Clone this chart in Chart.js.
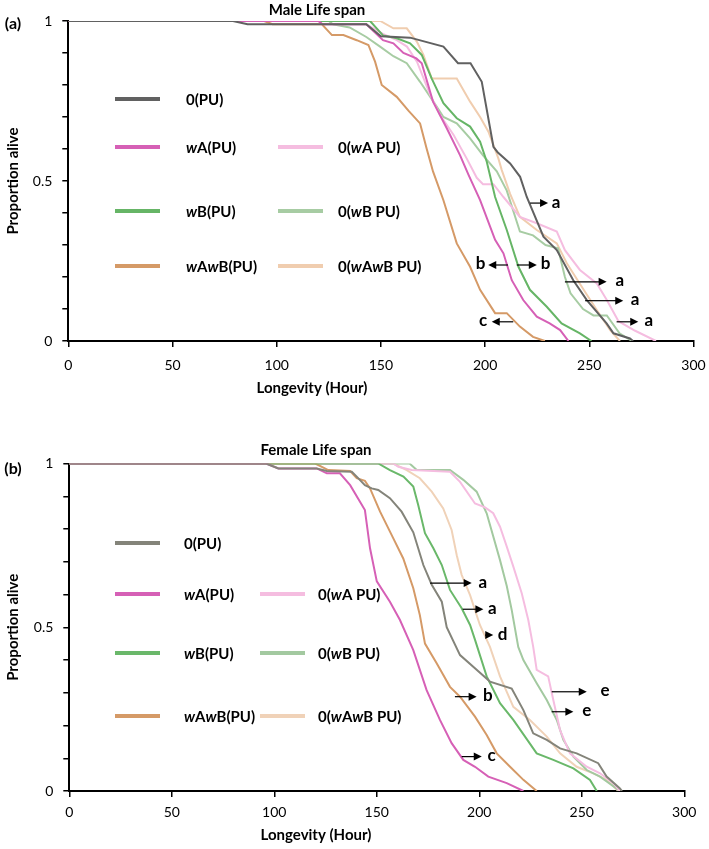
<!DOCTYPE html>
<html>
<head>
<meta charset="utf-8">
<script src="https://cdn.jsdelivr.net/npm/chart.js@4.4.1/dist/chart.umd.min.js"></script>
<style>
  html, body { margin: 0; padding: 0; background: #fff; }
  body { width: 709px; height: 849px; position: relative; overflow: hidden; }
  canvas { position: absolute; left: 0; }
  #maleChart { top: 0; }
  #femaleChart { top: 420px; }
</style>
</head>
<body>
<!-- canvases a bit wider than the page so the "300" label gets room without squeezing the plot -->
<canvas id="maleChart" width="730" height="400"></canvas>
<canvas id="femaleChart" width="730" height="429"></canvas>
<script>
// series names (same order in both panels)
const seriesNames = ['0(PU)', 'wA(PU)', 'wB(PU)', 'wAwB(PU)', '0(wA PU)', '0(wB PU)', '0(wAwB PU)'];

// axis ticks
const xTicks = [0, 50, 100, 150, 200, 250, 300];
const yTickLabels = [0, 0.5, 1];

// (a) male life span: [hour, proportion alive]
const male0PU = [[0,1],[79,1],[86,0.99],[143,0.99],[150,0.952],[164,0.948],[180,0.92],[187,0.868],[193,0.868],[198.4,0.81],[204,0.607],[206,0.59],[212,0.555],[216.8,0.513],[220,0.45],[228,0.326],[234.4,0.284],[242.3,0.19],[248.8,0.128],[258.3,0.055],[261.6,0.024],[269.5,0.008],[271,0]];
const maleWA = [[0,1],[120,1],[122,0.99],[143,0.99],[151,0.94],[156,0.93],[160.8,0.9],[167,0.883],[169.6,0.868],[175,0.748],[181.6,0.665],[188,0.58],[192,0.52],[197.6,0.44],[204.8,0.316],[208.8,0.274],[212.8,0.19],[218.3,0.128],[224.8,0.076],[231,0.055],[236,0.034],[240,0]];
const maleWB = [[0,1],[144.8,1],[151,0.955],[157.6,0.946],[164,0.93],[169.6,0.894],[174.4,0.82],[180,0.743],[186.4,0.696],[192.8,0.67],[197.6,0.623],[200.8,0.56],[204.8,0.45],[210.4,0.347],[216,0.232],[221.5,0.16],[229.6,0.107],[236.7,0.055],[245.5,0.024],[251,0]];
const maleWAWB = [[0,1],[94,1],[98,0.99],[121.7,0.99],[126.5,0.956],[132,0.956],[138.4,0.94],[144,0.925],[147.2,0.873],[150.4,0.8],[157.6,0.763],[163.2,0.72],[168.8,0.68],[172,0.6],[175,0.53],[180,0.44],[186.4,0.305],[192.8,0.232],[197.6,0.16],[204.8,0.087],[210.4,0.087],[216.7,0.045],[223,0.013],[228.7,0]];
const male0WA = [[0,1],[120,1],[122,0.99],[143,0.99],[151,0.96],[157.6,0.94],[162.5,0.92],[167.3,0.873],[173.6,0.77],[178.4,0.706],[184.9,0.644],[191.2,0.57],[196,0.51],[199,0.49],[204,0.49],[208.8,0.45],[216.7,0.388],[224.8,0.368],[234.4,0.342],[238.3,0.284],[245.5,0.222],[253.6,0.18],[258.4,0.128],[264,0.062],[272,0.032],[282,0]];
const male0WB = [[0,1],[125,1],[127,0.99],[135,0.98],[143,0.95],[149.6,0.92],[156,0.89],[162.4,0.868],[168.8,0.81],[175.2,0.748],[180,0.7],[186.4,0.68],[192.8,0.633],[199,0.58],[205.6,0.53],[210.4,0.47],[216.7,0.342],[223,0.33],[229,0.3],[235,0.29],[238.3,0.2],[241,0.149],[247,0.1],[252,0.08],[258.4,0.08],[264.5,0.024],[270.5,0]];
const male0WAWB = [[0,1],[149.7,1],[156,0.977],[162.4,0.977],[167.3,0.935],[170.4,0.894],[174.4,0.82],[186.4,0.82],[192.8,0.748],[197.6,0.7],[201.6,0.654],[206.4,0.57],[208,0.534],[212,0.46],[216.7,0.388],[224.8,0.347],[234.4,0.305],[239.2,0.243],[247.3,0.16],[253.6,0.097],[260,0.034],[264.7,0]];

// (b) female life span
const female0PU = [[0,1],[96,1],[102,0.985],[120.7,0.985],[125.6,0.977],[137.8,0.975],[140.2,0.96],[144.2,0.934],[147.5,0.924],[150.7,0.919],[156.4,0.894],[162.1,0.853],[167.8,0.79],[172.7,0.69],[176.8,0.63],[181.7,0.578],[184.1,0.5],[190.6,0.415],[198.7,0.37],[205.2,0.334],[215.8,0.313],[221.5,0.247],[226.3,0.176],[232.9,0.156],[239.4,0.13],[247.5,0.115],[258,0.085],[262.1,0.044],[268.6,0.008],[269.6,0]];
const femaleWA = [[0,1],[96,1],[102,0.985],[120.7,0.985],[125.6,0.97],[132,0.97],[137,0.934],[144.2,0.858],[146.7,0.741],[150,0.64],[156.4,0.578],[161.3,0.522],[167.8,0.43],[174.3,0.308],[180.8,0.217],[186.5,0.146],[192.2,0.095],[197.9,0.074],[204.4,0.044],[213.4,0.024],[221.5,0]];
const femaleWB = [[0,1],[150.7,1],[156.4,0.98],[163,0.96],[167.8,0.93],[170.2,0.873],[173.5,0.787],[177.6,0.741],[181.7,0.69],[185.7,0.614],[191.4,0.558],[195.5,0.507],[198,0.46],[203.6,0.35],[210.1,0.268],[216.6,0.217],[222.3,0.166],[228,0.115],[236.1,0.095],[245.9,0.069],[254,0.034],[257.3,0]];
const femaleWAWB = [[0,1],[120,1],[126.3,0.98],[137,0.977],[140.2,0.955],[144.2,0.947],[146.7,0.924],[151.6,0.853],[158,0.772],[162.9,0.71],[167.8,0.619],[171,0.537],[173.5,0.45],[179.2,0.39],[185.7,0.318],[190.6,0.288],[197.9,0.227],[203.6,0.171],[208.5,0.115],[215,0.074],[221.5,0.034],[228,0]];
const female0WA = [[0,1],[158,1],[160.5,0.99],[167,0.98],[185.7,0.975],[190.6,0.944],[197.9,0.878],[202.8,0.866],[206.8,0.848],[210.1,0.807],[213.4,0.746],[216.6,0.685],[220.7,0.604],[223.9,0.522],[226.3,0.44],[228,0.37],[233.6,0.35],[236.1,0.278],[239.4,0.186],[244.2,0.115],[252.4,0.074],[258.9,0.054],[265.4,0.024],[268.6,0]];
const female0WB = [[0,1],[166,1],[169.5,0.98],[185.7,0.98],[192.2,0.95],[198.7,0.914],[203.6,0.848],[210.1,0.705],[213.4,0.626],[215.8,0.553],[219,0.44],[221.5,0.4],[228,0.329],[232.9,0.278],[237.8,0.217],[241,0.156],[245.9,0.105],[252.4,0.064],[258.9,0.044],[268.6,0]];
const female0WAWB = [[0,1],[158,1],[164.6,0.98],[171,0.955],[176.8,0.914],[182.4,0.863],[186.5,0.797],[189,0.72],[191.4,0.66],[195.5,0.598],[200.3,0.507],[205.2,0.44],[210.1,0.35],[216.6,0.257],[224.7,0.217],[232.9,0.166],[239.4,0.115],[247.5,0.074],[255.6,0.054],[262.1,0.034],[267.8,0]];

// significance arrows: arrow from -> to (hours) at proportion y, letter centred at 'at'
const maleMarks = [
  { from: 221.6, to: 230.2, y: 0.431, letter: 'a', at: 234 },
  { from: 211, to: 201.5, y: 0.2375, letter: 'b', at: 197.8 },
  { from: 215.2, to: 224.8, y: 0.2375, letter: 'b', at: 229 },
  { from: 238.3, to: 258.3, y: 0.185, letter: 'a', at: 264.6 },
  { from: 248, to: 266.3, y: 0.126, letter: 'a', at: 272 },
  { from: 213.5, to: 203.2, y: 0.06, letter: 'c', at: 199 },
  { from: 263.1, to: 273.5, y: 0.06, letter: 'a', at: 278.5 }
];
const femaleMarks = [
  { from: 176, to: 196.3, y: 0.635, letter: 'a', at: 201.7 },
  { from: 191.9, to: 202, y: 0.555, letter: 'a', at: 206.3 },
  { from: 202.8, to: 206.8, y: 0.476, letter: 'd', at: 211.4 },
  { from: 188.1, to: 198.7, y: 0.288, letter: 'b', at: 204.1 },
  { from: 191.4, to: 201.2, y: 0.105, letter: 'c', at: 206 },
  { from: 235.3, to: 252.4, y: 0.303, letter: 'e', at: 261.3 },
  { from: 235.3, to: 245.9, y: 0.242, letter: 'e', at: 252.4 }
];

// colours
const maleColors = ['#616161', '#d660b6', '#66b566', '#d59a67', '#f5bde0', '#a7cca3', '#f0cdaf'];
const femaleColors = ['#84847a', '#d660b6', '#6ab86a', '#d59a67', '#f5bde0', '#a3c9a0', '#f0d2b8'];

// where each series sits in the hand-drawn legend
const legendSlots = [
  { s: 0, row: 0, col: 0 }, { s: 1, row: 1, col: 0 }, { s: 4, row: 1, col: 1 },
  { s: 2, row: 2, col: 0 }, { s: 5, row: 2, col: 1 }, { s: 3, row: 3, col: 0 }, { s: 6, row: 3, col: 1 }
];

const FONT = 'Lato, "Open Sans", sans-serif';

// draws label with every "w" in italics (Wolbachia strain names)
function drawRich(ctx, text, x, y, size) {
  let cx = x;
  for (const ch of text) {
    ctx.font = (ch === 'w' ? 'italic ' : '') + 'bold ' + size + 'px ' + FONT;
    ctx.fillText(ch, cx, y);
    cx += ctx.measureText(ch).width;
  }
}

function drawExtras(chart, cfg) {
  const ctx = chart.ctx;
  const xs = chart.scales.x, ys = chart.scales.y;
  ctx.save();
  ctx.fillStyle = '#000';
  ctx.textBaseline = 'middle';

  // titles
  ctx.textAlign = 'center';
  ctx.font = 'bold 15px ' + FONT;
  ctx.fillText(cfg.title, cfg.titlePos[0], cfg.titlePos[1]);
  ctx.font = 'bold 16px ' + FONT;
  ctx.fillText(cfg.tag, 13, cfg.tagY);
  ctx.font = 'bold 15px ' + FONT;
  ctx.fillText('Longevity (Hour)', cfg.xTitlePos[0], cfg.xTitlePos[1]);

  // legend
  ctx.textAlign = 'left';
  legendSlots.forEach(slot => {
    const yy = cfg.legendRows[slot.row];
    const line = cfg.legendCols[slot.col];
    ctx.strokeStyle = cfg.colors[slot.s];
    ctx.lineWidth = 4;
    ctx.beginPath();
    ctx.moveTo(line[0], yy);
    ctx.lineTo(line[1], yy);
    ctx.stroke();
    ctx.fillStyle = '#000';
    drawRich(ctx, seriesNames[slot.s], line[2], yy + 1, 15);
  });

  // arrows + letters
  ctx.strokeStyle = '#000';
  ctx.fillStyle = '#000';
  ctx.lineWidth = 1.2;
  cfg.marks.forEach(m => {
    const x1 = xs.getPixelForValue(m.from);
    const x2 = xs.getPixelForValue(m.to);
    const py = ys.getPixelForValue(m.y);
    const dir = x2 > x1 ? 1 : -1;
    ctx.beginPath();
    ctx.moveTo(x1, py);
    ctx.lineTo(x2 - dir * 7, py);
    ctx.stroke();
    ctx.beginPath();
    ctx.moveTo(x2, py);
    ctx.lineTo(x2 - dir * 8, py - 4);
    ctx.lineTo(x2 - dir * 8, py + 4);
    ctx.closePath();
    ctx.fill();
    ctx.textAlign = 'center';
    ctx.font = 'bold 17px ' + FONT;
    ctx.fillText(m.letter, xs.getPixelForValue(m.at), py - 1);
  });
  ctx.restore();
}

function makeChart(canvasId, series, cfg) {
  const datasets = series.map((pts, i) => ({
    label: seriesNames[i],
    data: pts.map(p => ({ x: p[0], y: p[1] })),
    borderColor: cfg.colors[i],
    borderWidth: 2,
    pointRadius: 0,
    tension: 0,
    fill: false
  }));

  return new Chart(document.getElementById(canvasId), {
    type: 'line',
    data: { datasets: datasets },
    options: {
      responsive: false,
      animation: false,
      layout: { padding: cfg.padding },
      plugins: { legend: { display: false }, tooltip: { enabled: false } },
      scales: {
        x: {
          type: 'linear',
          min: 0, max: 300,
          afterFit: s => { s.height = 40; },
          afterBuildTicks: s => { s.ticks = xTicks.map(v => ({ value: v })); },
          grid: { drawOnChartArea: false, drawTicks: true, tickLength: 6, color: '#000', lineWidth: 1.5 },
          border: { color: '#000', width: 2 },
          ticks: { color: '#000', font: { family: FONT, size: 14 }, padding: cfg.xTickPad, maxRotation: 0, autoSkip: false }
        },
        y: {
          min: 0, max: 1,
          afterFit: s => { s.width = cfg.yAxisWidth; },
          grid: { drawOnChartArea: false, drawTicks: true, tickLength: 6, color: '#000', lineWidth: 1.5 },
          border: { color: '#000', width: 2 },
          title: { display: true, text: 'Proportion alive', color: '#000', font: { family: FONT, size: 15, weight: 'bold' } },
          ticks: {
            stepSize: 0.1,
            color: '#000',
            padding: 10,
            font: { family: FONT, size: 14 },
            callback: v => {
              const hit = yTickLabels.find(t => Math.abs(t - v) < 1e-6);
              return hit === undefined ? '' : String(hit);
            }
          }
        }
      }
    },
    plugins: [{ id: 'extras' + canvasId, afterDraw: chart => drawExtras(chart, cfg) }]
  });
}

makeChart('maleChart',
  [male0PU, maleWA, maleWB, maleWAWB, male0WA, male0WB, male0WAWB],
  {
    colors: maleColors, marks: maleMarks,
    title: 'Male Life span', titlePos: [317, 10], tag: '(a)', tagY: 24,
    xTitlePos: [312, 388],
    padding: { left: 0, top: 21, right: 36.5, bottom: 19 },
    yAxisWidth: 68.3, xTickPad: 10,
    legendRows: [99, 147, 211, 266],
    legendCols: [[115, 160, 186], [278, 323, 338]]
  });

makeChart('femaleChart',
  [female0PU, femaleWA, femaleWB, femaleWAWB, female0WA, female0WB, female0WAWB],
  {
    colors: femaleColors, marks: femaleMarks,
    title: 'Female Life span', titlePos: [316, 30], tag: '(b)', tagY: 49,
    xTitlePos: [316, 415],
    padding: { left: 0, top: 43.5, right: 45.7, bottom: 18 },
    yAxisWidth: 69.3, xTickPad: 7,
    legendRows: [123, 174, 233, 296],
    legendCols: [[115, 160, 184], [260, 305, 318]]
  });
</script>
</body>
</html>
